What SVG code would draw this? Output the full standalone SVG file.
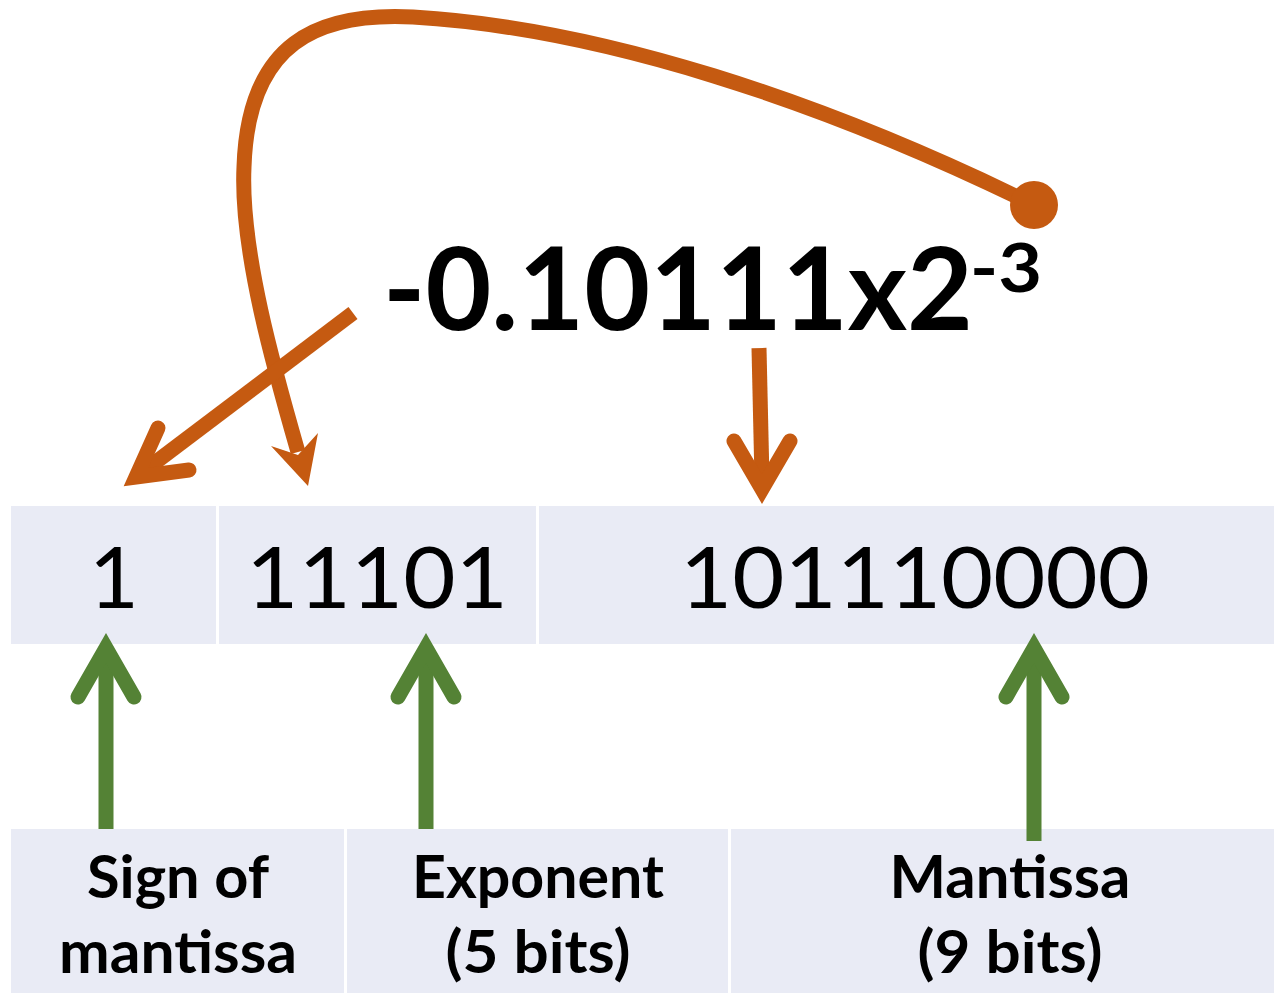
<svg xmlns="http://www.w3.org/2000/svg" width="1274" height="993" viewBox="0 0 1274 993">
  <defs>
    <style>
      .cell { fill: #E9EBF5; }
      .bits { font-family: Lato, "Liberation Sans", sans-serif; font-size: 86px; fill: #000; text-anchor: middle; }
      .label { font-family: Lato, "Liberation Sans", sans-serif; font-weight: bold; font-size: 60px; fill: #000; text-anchor: middle; }
      .expr { font-family: Lato, "Liberation Sans", sans-serif; font-weight: bold; fill: #000; }
      .orange { fill: none; stroke: #C55A11; stroke-width: 15; }
      .orange-head { fill: none; stroke: #C55A11; stroke-width: 15; stroke-linecap: round; stroke-linejoin: miter; }
      .green { fill: none; stroke: #548235; stroke-width: 15; }
      .green-head { fill: none; stroke: #548235; stroke-width: 15; stroke-linecap: round; stroke-linejoin: miter; }
    </style>
  </defs>

  <rect width="1274" height="993" fill="#FFFFFF"/>

  <!-- Bit fields -->
  <g id="sign-bit">
    <rect class="cell" x="11" y="506" width="205" height="138"/>
    <text class="bits" x="114" y="608">1</text>
  </g>
  <g id="exponent-bits">
    <rect class="cell" x="219" y="506" width="317" height="138"/>
    <text class="bits" x="377" y="608" textLength="262" lengthAdjust="spacingAndGlyphs">11101</text>
  </g>
  <g id="mantissa-bits">
    <rect class="cell" x="539" y="506" width="735" height="138"/>
    <text class="bits" x="915" y="608" textLength="470" lengthAdjust="spacingAndGlyphs">101110000</text>
  </g>

  <!-- Field captions -->
  <g id="sign-label">
    <rect class="cell" x="11" y="829" width="333" height="164"/>
    <text class="label" x="178" y="898" textLength="182" lengthAdjust="spacingAndGlyphs">Sign of</text>
    <text class="label" x="178" y="973" textLength="238" lengthAdjust="spacingAndGlyphs">mantissa</text>
  </g>
  <g id="exponent-label">
    <rect class="cell" x="347" y="829" width="381" height="164"/>
    <text class="label" x="538" y="898" textLength="252" lengthAdjust="spacingAndGlyphs">Exponent</text>
    <text class="label" x="538" y="973" textLength="185" lengthAdjust="spacingAndGlyphs">(5 bits)</text>
  </g>
  <g id="mantissa-label">
    <rect class="cell" x="731" y="829" width="543" height="164"/>
    <text class="label" x="1010" y="898" textLength="241" lengthAdjust="spacingAndGlyphs">Mantissa</text>
    <text class="label" x="1010" y="973" textLength="185" lengthAdjust="spacingAndGlyphs">(9 bits)</text>
  </g>

  <!-- Normalised value -->
  <g id="expression">
    <text class="expr" x="383" y="330" font-size="114" textLength="590" lengthAdjust="spacingAndGlyphs">-0.10111x2</text>
    <text class="expr" x="970" y="292" font-size="66" textLength="72" lengthAdjust="spacingAndGlyphs">-3</text>
  </g>

  <!-- Connectors -->
  <g id="connectors">
    <!-- exponent taken from the power of two -->
    <path class="orange" d="M 1034 205 C 820 100 600 28 413 17 C 318 12 248 42 244 167 C 240 250 275 372 298 452"/>
    <circle cx="1034" cy="205" r="24" fill="#C55A11"/>
    <polygon points="308,486 271,446 298,455 318,433" fill="#C55A11"/>

    <!-- sign -->
    <line class="orange" x1="353" y1="313" x2="140" y2="474"/>
    <polyline class="orange-head" points="158,428 136,477 189,470"/>

    <!-- mantissa -->
    <line class="orange" x1="759" y1="348" x2="762" y2="480"/>
    <polyline class="orange-head" points="734,441 762,489 790,441"/>

    <!-- field pointers -->
    <line class="green" x1="106" y1="652" x2="106" y2="829"/>
    <polyline class="green-head" points="78,697 106,648 134,697"/>
    <line class="green" x1="426" y1="652" x2="426" y2="829"/>
    <polyline class="green-head" points="398,697 426,648 454,697"/>
    <line class="green" x1="1034" y1="652" x2="1034" y2="841"/>
    <polyline class="green-head" points="1006,697 1034,648 1062,697"/>
  </g>
</svg>
